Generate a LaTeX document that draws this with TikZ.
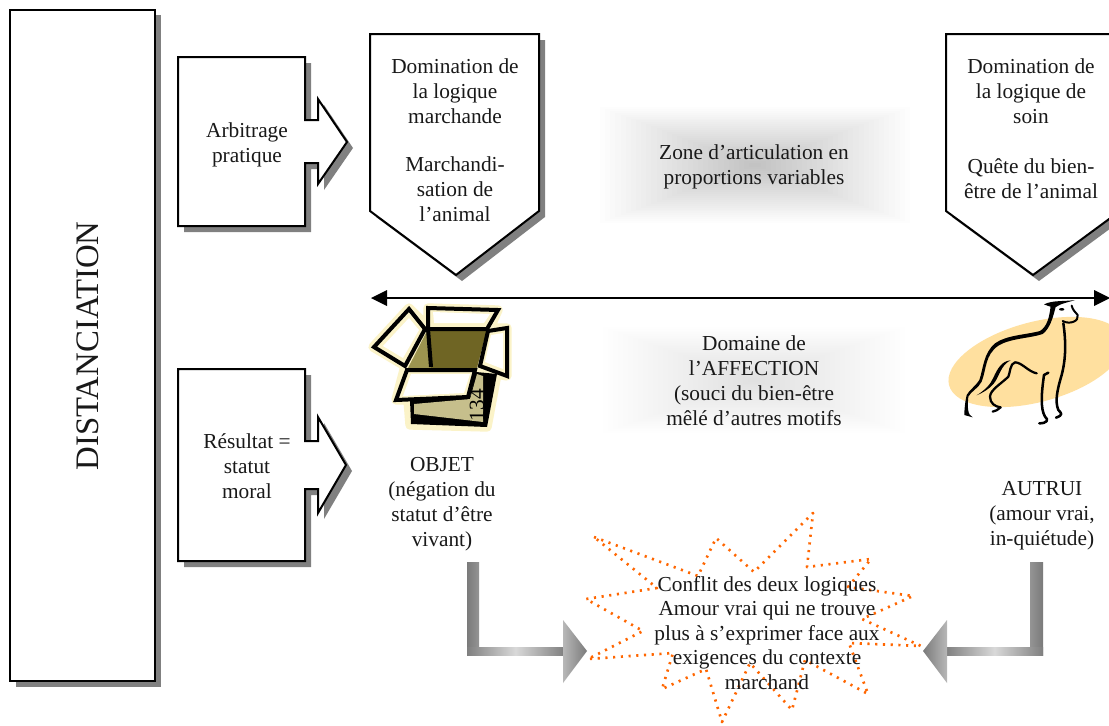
\documentclass[tikz,border=0pt]{standalone}
\usepackage{fontspec}
\setmainfont{Liberation Serif}
\usetikzlibrary{shadings,calc}
\definecolor{shadowgray}{HTML}{808080}
\definecolor{starorange}{HTML}{FF6600}
\definecolor{halo}{HTML}{FBF3C8}
\definecolor{dogyellow}{HTML}{FFE09F}
\definecolor{olive}{HTML}{6F6524}
\definecolor{olivelight}{HTML}{9C9450}
\definecolor{khaki}{HTML}{C6BF8C}
\tikzset{
  x=0.75pt,y=-0.75pt,
  shape outline/.style={draw=black,line width=1.5pt,fill=white,line join=miter},
  shadow shape/.style={fill=shadowgray,draw=none},
  label text/.style={align=center,font=\fontsize{16}{18.7}\selectfont,inner sep=0pt,text=black!90},
  blk/.style={draw=black,line width=3pt,line join=miter},
  dogfill/.style={fill=black,draw=none},
  dogline/.style={draw=black,line cap=round,line join=round},
}
% x0,y0,x1,y1,opacity
\newcommand{\softzone}[5]{%
  \foreach \i in {0,1,...,29}{%
    \fill[black,opacity=#5] ({#1+\i*(#3-#1)*0.0166},{#2+\i*(#4-#2)*0.0166}) rectangle ({#3-\i*(#3-#1)*0.0166},{#4-\i*(#4-#2)*0.0166});
  }%
}
\begin{document}
\begin{tikzpicture}
\useasboundingbox (0,0) rectangle (1109,725);
\fill[white] (0,0) rectangle (1109,725);
% soft zones
\softzone{600}{107}{910}{223}{0.0075}
\softzone{603}{327}{905}{433}{0.0055}
% distanciation
\fill[shadow shape] (16,15) rectangle (161,687);
\node[shape outline,minimum width=108.75pt,minimum height=503pt,inner sep=0pt] (dist) at (82.5,345.5) {};
\node[label text,rotate=90,font=\fontsize{24.6}{26}\selectfont] (disttxt) at (88,346) {DISTANCIATION};
% arbitrage callout
\fill[shadow shape] (184,63) -- (311,63) -- (311,126) -- (324,126) -- (324,105) -- (353,148) -- (324,190) -- (324,169) -- (311,169) -- (311,232) -- (184,232) -- cycle;
\draw[shape outline] (178,57) -- (305,57) -- (305,120) -- (318,120) -- (318,99) -- (347,142) -- (318,184) -- (318,163) -- (305,163) -- (305,226) -- (178,226) -- cycle;
\node[label text] (arb) at (247,145) {Arbitrage\\pratique};
% resultat callout
\fill[shadow shape] (184,375) -- (311,375) -- (311,447) -- (324,447) -- (324,423) -- (352,471) -- (324,519) -- (324,495) -- (311,495) -- (311,567) -- (184,567) -- cycle;
\draw[shape outline] (178,369) -- (305,369) -- (305,441) -- (318,441) -- (318,417) -- (346,465) -- (318,513) -- (318,489) -- (305,489) -- (305,561) -- (178,561) -- cycle;
\node[label text] (res) at (247,466) {Résultat =\\statut\\moral};
% pentagons
\fill[shadow shape] (376,40) -- (545,40) -- (545,217) -- (462,281) -- (376,217) -- cycle;
\draw[shape outline] (370,34) -- (539,34) -- (539,211) -- (456,275) -- (370,211) -- cycle;
\node[label text] (march) at (455,140) {Domination de\\la logique\\marchande\\[6.2mm]Marchandi-\\sation de\\l’animal};
\fill[shadow shape] (952,40) -- (1126,40) -- (1126,217) -- (1039,281) -- (952,217) -- cycle;
\draw[shape outline] (946,34) -- (1120,34) -- (1120,211) -- (1033,275) -- (946,211) -- cycle;
\node[label text] (soin) at (1031,128.5) {Domination de\\la logique de\\soin\\[6.6mm]Quête du bien-\\être de l’animal};
% middle texts
\node[label text] (zone) at (754,167) {Zone d’articulation en\\proportions variables};
\node[label text] (affec) at (754,381) {Domaine de\\l’AFFECTION\\(souci du bien-être\\mêlé d’autres motifs};
% double arrow
\coordinate (axisl) at (371,298);
\coordinate (axisr) at (1110,298);
\draw[black,line width=1.5pt] ($(axisl)+(10,0)$) -- ($(axisr)+(-10,0)$);
\fill (axisl) -- ++(16,-8) -- ++(0,16) -- cycle;
\fill (axisr) -- ++(-16,-8) -- ++(0,16) -- cycle;
% box
\draw[halo,line width=7pt,fill=halo,line join=round] (409,308) -- (428,327) -- (428,308) -- (498,310) -- (490,328) -- (507,328) -- (507,376) -- (497,374) -- (487,427) -- (410,425) -- (408,400) -- (396,400) -- (405,366) -- (373,347) -- cycle;
\fill[olive] (428,329) -- (487,329) -- (477,368) -- (428,368) -- cycle;
\fill[olivelight] (428,329) -- (431,368) -- (408,368) -- cycle;
\draw[blk] (428,329) -- (431,367);
\fill[black] (410,400) -- (470,397) -- (476,372) -- (497,374) -- (487,427) -- (411,424) -- cycle;
\fill[khaki] (414,404) -- (470,399) -- (477,374) -- (483,376) -- (483,422) -- (414,414) -- cycle;
\node[rotate=90,font=\fontsize{16}{18}\selectfont,inner sep=0pt] (num) at (477,405) {134};
\draw[blk,fill=halo] (409,309) -- (425,329) -- (405,366) -- (374,347) -- cycle;
\fill[white] (409,318) -- (419,330) -- (403,358) -- (383,346) -- cycle;
\draw[blk,fill=halo] (428,308) -- (498,310) -- (487,329) -- (428,329) -- cycle;
\fill[white] (433,312) -- (490,314) -- (484,323) -- (434,323) -- cycle;
\draw[blk,fill=halo] (488,331) -- (507,328) -- (507,376) -- (480,366) -- cycle;
\fill[white] (491,335) -- (503,333) -- (503,369) -- (485,362) -- cycle;
\draw[blk,fill=halo] (407,370) -- (475,370) -- (468,397) -- (396,400) -- cycle;
\fill[white] (411,374) -- (470,374) -- (464,393) -- (403,396) -- cycle;
% dog
\fill[dogyellow,rotate around={15:(1036,362)}] (1036,362) ellipse (90 and 40);
\begin{scope}[shift={(930,285)},x=0.25pt,y=-0.25pt]
\fill[dogfill] (342,58) .. controls (370,45) and (400,50) .. (435,45) .. controls (415,52) and (395,55) .. (385,62) .. controls (375,72) and (360,65) .. cycle;
\fill[dogfill] (395,73) ellipse (8 and 4);
\fill[dogfill] (362,62) .. controls (358,100) and (350,125) .. (330,138) .. controls (285,150) and (230,150) .. (195,175) .. controls (160,205) and (160,250) .. (148,285) .. controls (135,305) and (118,315) .. (110,330) .. controls (105,350) and (103,375) .. (103,390) -- (128,397) .. controls (112,390) and (112,365) .. (115,335) .. controls (122,320) and (145,310) .. (155,290) .. controls (170,250) and (165,210) .. (205,182) .. controls (240,160) and (300,160) .. (338,147) .. controls (360,130) and (368,100) .. (377,66) -- cycle;
\draw[dogline,line width=1.5pt] (425,62) .. controls (428,75) and (435,80) .. (443,90) .. controls (448,108) and (420,120) .. (398,108);
\draw[dogline,line width=1.9pt] (400,115) .. controls (408,170) and (408,220) .. (395,270) .. controls (380,320) and (375,350) .. (385,375) .. controls (395,385) and (400,390) .. (378,398);
\draw[dogline,line width=1.9pt] (355,263) -- (342,270) .. controls (335,320) and (330,370) .. (345,395) .. controls (358,405) and (350,415) .. (328,415);
\draw[dogline,line width=1.7pt] (320,265) .. controls (295,260) and (275,232) .. (255,232) .. controls (240,235) and (240,265) .. (235,275) .. controls (215,295) and (180,315) .. (180,335) .. controls (180,355) and (195,365) .. (212,367) .. controls (205,375) and (195,378) .. (188,380);
\fill[dogfill] (242,226) .. controls (215,228) and (203,250) .. (190,278) .. controls (182,298) and (165,315) .. (140,331) .. controls (170,318) and (190,302) .. (200,282) .. controls (212,258) and (220,236) .. cycle;
\end{scope}
% labels
\node[label text] (objet) at (442,504) {OBJET\\(négation du\\statut d’être\\vivant)};
\node[label text] (autrui) at (1042,515.5) {AUTRUI\\(amour vrai,\\in-quiétude)};
% star
\coordinate (s1) at (594,537);
\draw[starorange,line width=2pt,dash pattern=on 1.6pt off 4.2pt,line join=round]
 (s1) -- (698,576) -- (716,538) -- (754,572) -- (813,513) -- (807,567) -- (871,559) -- (848,587) -- (913,596) -- (862,619) -- (921,646) -- (849,643) -- (868,694) -- (805,660) -- (792,710) -- (750,663) -- (722,722) -- (706,669) -- (662,689) -- (673,653) -- (588,659) -- (643,631) -- (586,599) -- (657,588) -- cycle;
\node[label text,font=\fontsize{16}{18.4}\selectfont] (conf) at (767,633) {Conflit des deux logiques\\Amour vrai qui ne trouve\\plus à s’exprimer face aux\\exigences du contexte\\marchand};
% gradient arrows
\shade[left color=black!52,right color=black!42] (467,562) rectangle (479,655);
\shade[left color=black!50,right color=black!50,middle color=black!15] (467,647) rectangle (564,655);
\shade[left color=black!28,right color=black!52] (563,620) -- (587,651) -- (563,683) -- cycle;
\shade[left color=black!42,right color=black!52] (1030,562) rectangle (1043,655);
\shade[left color=black!50,right color=black!50,middle color=black!15] (946,647) rectangle (1043,655);
\shade[left color=black!52,right color=black!28] (947,620) -- (923,651) -- (947,683) -- cycle;
\end{tikzpicture}
\end{document}
